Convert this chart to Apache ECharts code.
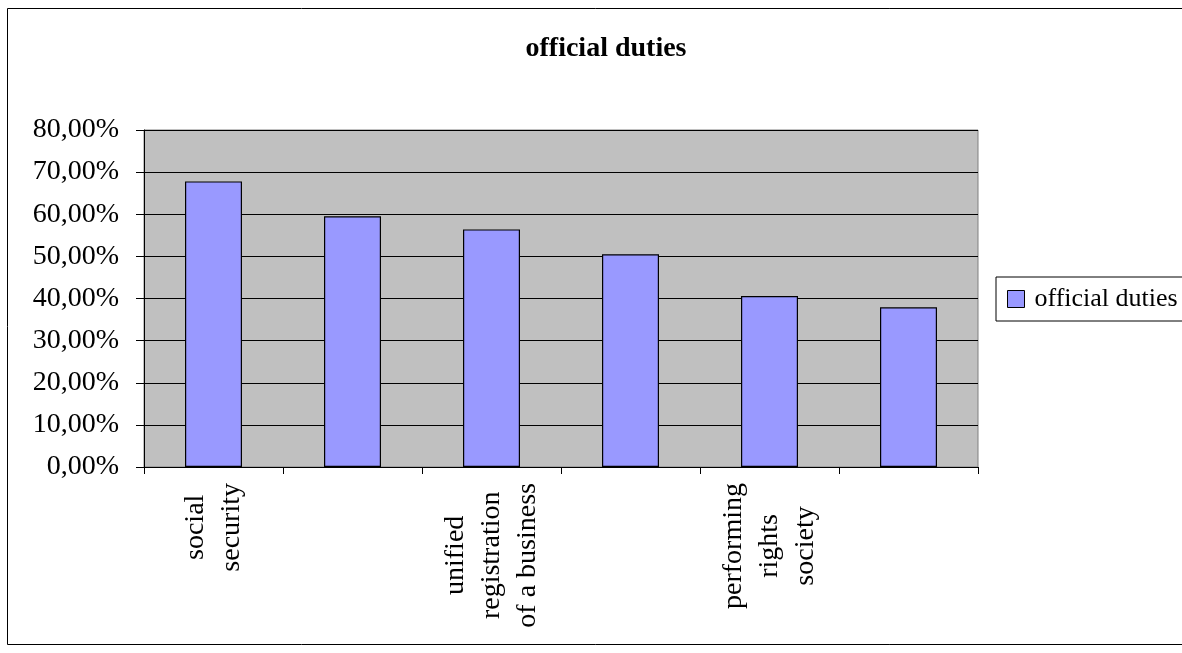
<!DOCTYPE html>
<html>
<head>
<meta charset="utf-8">
<script src="https://cdn.jsdelivr.net/npm/echarts@6/dist/echarts.min.js"></script>
<style>
html,body{margin:0;padding:0;background:#fff;}
#chart{width:1182px;height:653px;}
</style>
</head>
<body>
<div id="chart"></div>
<script>
const titleText = "official duties";
const seriesName = "official duties";
const categories = ["social\nsecurity", "", "unified\nregistration\nof a business", "", "performing\nrights\nsociety", ""];
const values = [67.8, 59.5, 56.4, 50.5, 40.6, 37.9];
const yMin = 0, yMax = 80, yStep = 10;

const FONT = "'Liberation Serif', 'Times New Roman', serif";
const chart = echarts.init(document.getElementById('chart'), null, {renderer: 'canvas'});
chart.setOption({
  backgroundColor: '#ffffff',
  animation: false,
  title: {
    text: titleText,
    left: 601,
    textAlign: 'center',
    top: 30,
    textStyle: {fontFamily: FONT, fontWeight: 'bold', fontSize: 28, color: '#000'}
  },
  graphic: [{
    type: 'rect',
    shape: {x: 7.5, y: 8.5, width: 1200, height: 636},
    style: {fill: null, stroke: '#000', lineWidth: 1},
    silent: true
  }],
  legend: {
    orient: 'vertical',
    left: 996,
    top: 277,
    backgroundColor: '#fff',
    borderColor: '#000',
    borderWidth: 1,
    padding: [9, 10, 9, 11],
    itemWidth: 17,
    itemHeight: 17,
    icon: 'rect',
    itemStyle: {borderColor: '#000', borderWidth: 1},
    textStyle: {fontFamily: FONT, fontSize: 26, color: '#000', padding: [0, 0, 0, 5]},
    data: [seriesName]
  },
  grid: {
    left: 144, top: 130, right: 204, bottom: 186,
    show: true, backgroundColor: '#C0C0C0', borderColor: '#808080', borderWidth: 1
  },
  xAxis: {
    type: 'category',
    data: categories,
    axisLine: {lineStyle: {color: '#000', width: 1}},
    axisTick: {show: true, interval: 0, length: 7, lineStyle: {color: '#000'}},
    axisLabel: {
      interval: 1,
      rotate: 90,
      margin: 16,
      color: '#000',
      fontFamily: FONT,
      fontSize: 28,
      lineHeight: 36,
      formatter: function (v) {
        return v.split('\n').map(function (s) { return '{c|' + s + '}'; }).join('\n');
      },
      rich: {c: {align: 'center', fontFamily: FONT, fontSize: 28, lineHeight: 36, color: '#000'}}
    }
  },
  yAxis: {
    type: 'value',
    min: yMin, max: yMax, interval: yStep,
    axisLine: {show: true, lineStyle: {color: '#000', width: 1}},
    axisTick: {show: true, length: 8, lineStyle: {color: '#000'}},
    splitLine: {show: true, lineStyle: {color: '#000', width: 1}},
    axisLabel: {
      margin: 25,
      color: '#000',
      fontFamily: FONT,
      fontSize: 28,
      formatter: function (v) { return v.toFixed(2).replace('.', ',') + '%'; }
    }
  },
  series: [{
    name: seriesName,
    type: 'bar',
    data: values,
    barCategoryGap: '59%',
    itemStyle: {color: '#9999FF', borderColor: '#000', borderWidth: 1.2}
  }]
});
</script>
</body>
</html>
